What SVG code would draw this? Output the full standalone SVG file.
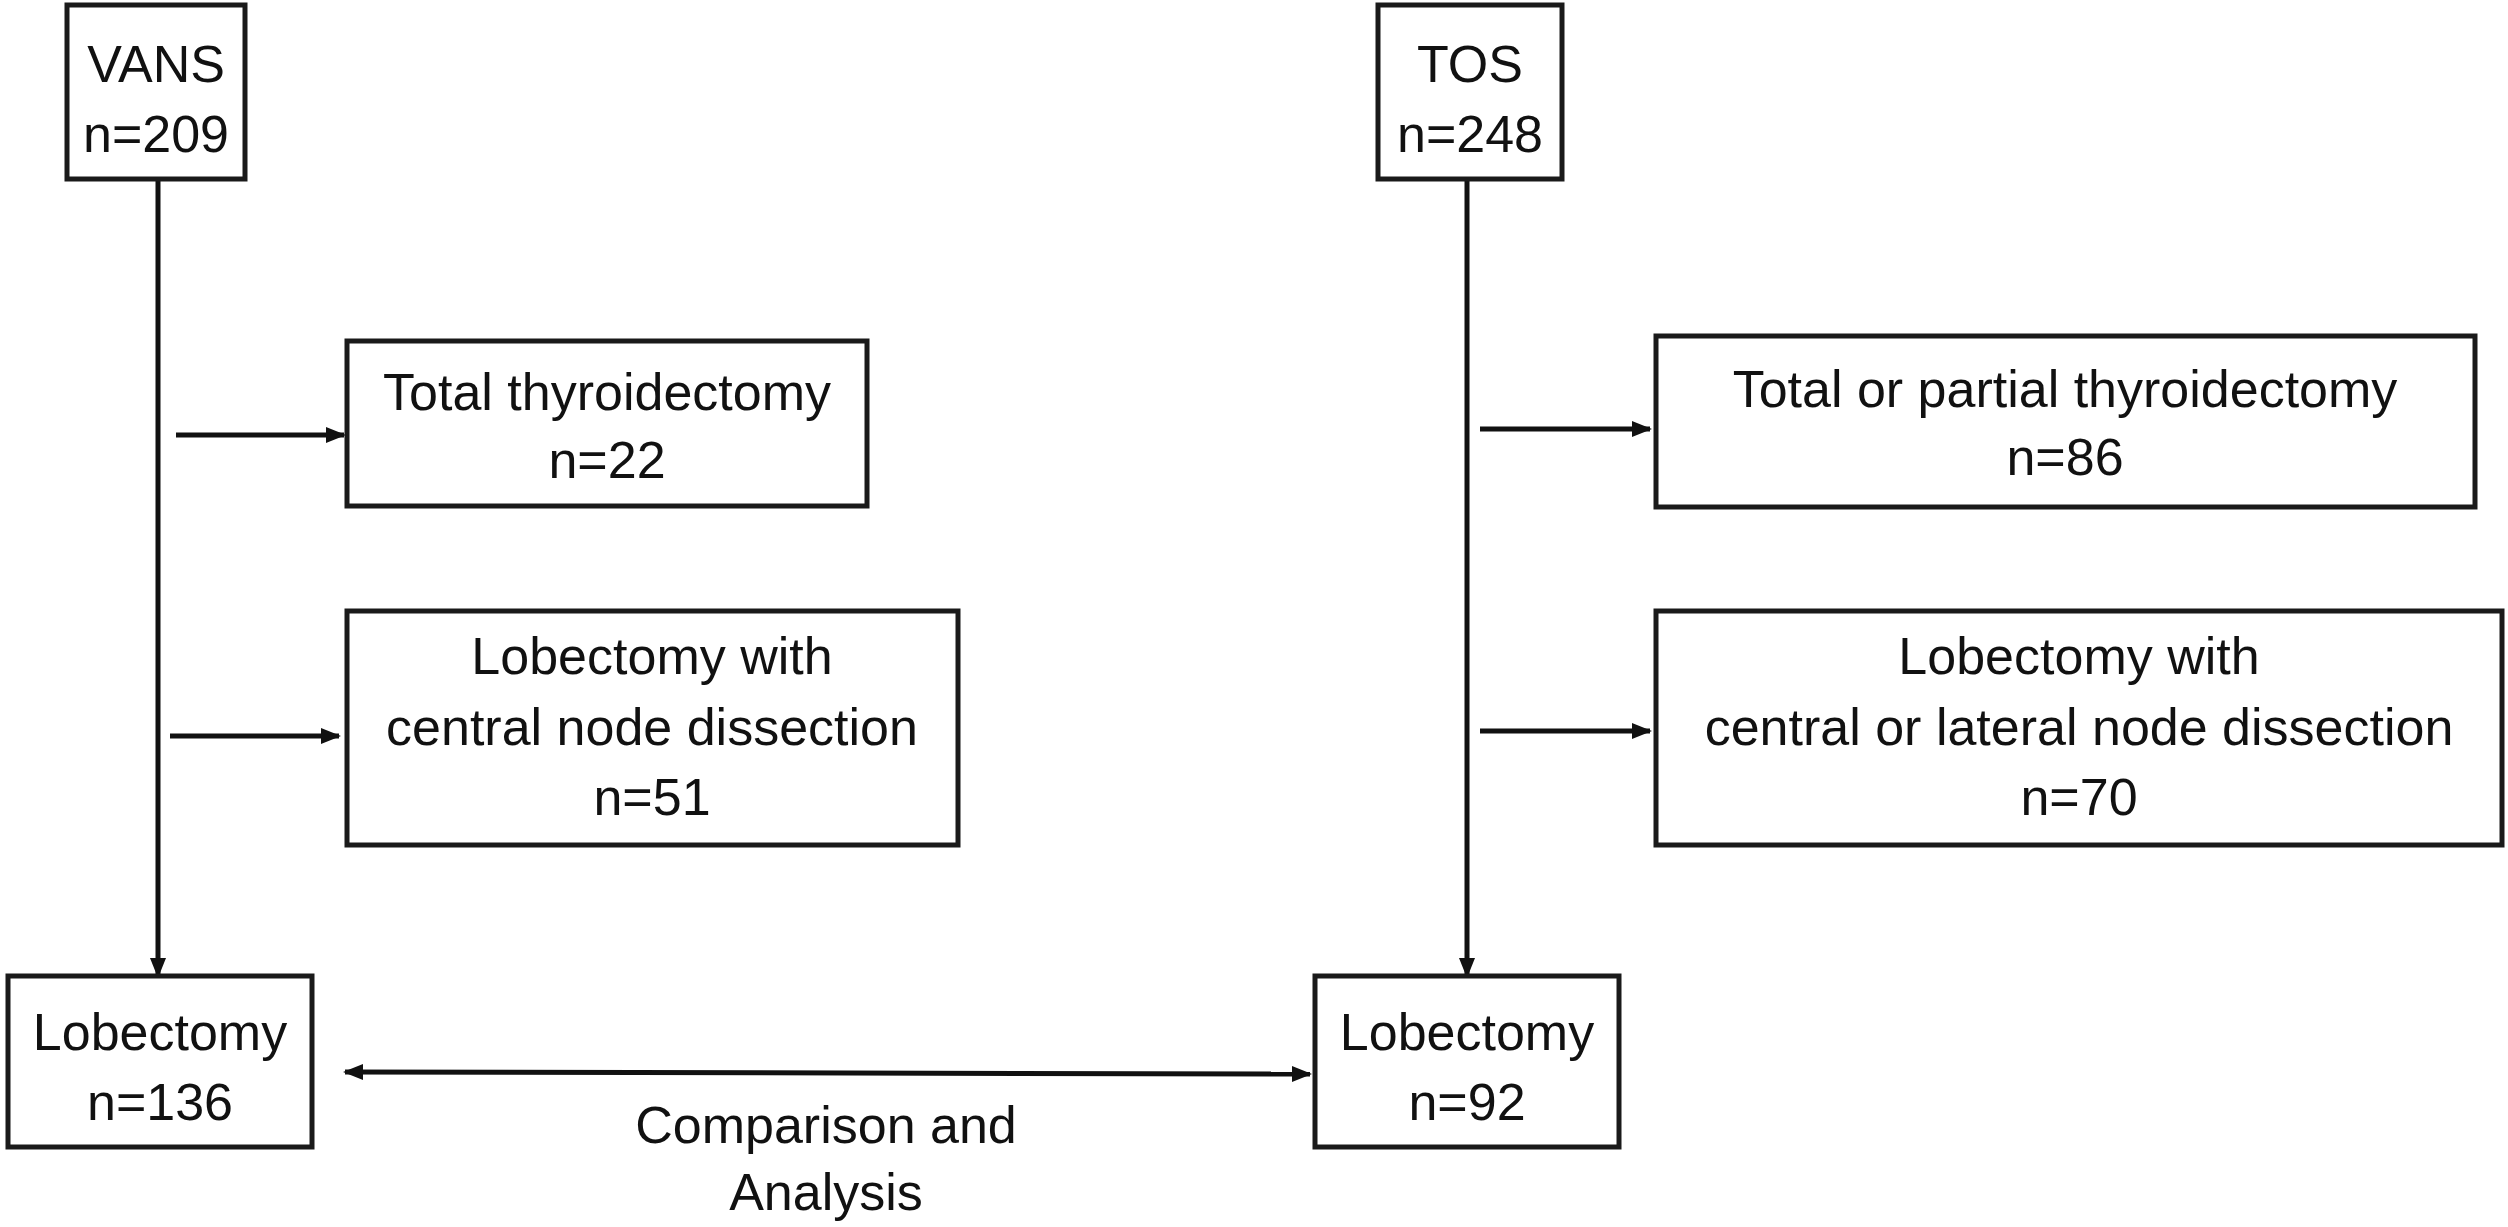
<svg xmlns="http://www.w3.org/2000/svg" width="2508" height="1227" viewBox="0 0 2508 1227">
<style>
rect{fill:#fff;stroke:#1a1a1a;stroke-width:5}
text{font-family:"Liberation Sans",Arial,sans-serif;font-size:52px;fill:#111;text-anchor:middle}
.c line{stroke:#111;stroke-width:5}
</style>
<defs>
<marker id="a" viewBox="0 0 10 10" refX="9" refY="5" markerWidth="4" markerHeight="4" orient="auto-start-reverse"><path d="M0,1 L10,5 L0,9 z" fill="#111"/></marker>
</defs>
<rect width="2508" height="1227" style="stroke:none"/>
<g class="c">
<line x1="158" y1="179" x2="158" y2="976" marker-end="url(#a)"/>
<line x1="176" y1="435" x2="344" y2="435" marker-end="url(#a)"/>
<line x1="170" y1="736" x2="339" y2="736" marker-end="url(#a)"/>
<line x1="1467" y1="179" x2="1467" y2="976" marker-end="url(#a)"/>
<line x1="1480" y1="429" x2="1650" y2="429" marker-end="url(#a)"/>
<line x1="1480" y1="731" x2="1650" y2="731" marker-end="url(#a)"/>
<line x1="345" y1="1072" x2="1310" y2="1074" marker-start="url(#a)" marker-end="url(#a)"/>
</g>
<g id="vans"><rect x="67" y="5" width="178" height="174"/><text x="156" y="82">VANS</text><text x="156" y="152">n=209</text></g>
<g id="tos"><rect x="1378" y="5" width="184" height="174"/><text x="1470" y="82">TOS</text><text x="1470" y="152">n=248</text></g>
<g id="tt"><rect x="347" y="341" width="520" height="165"/><text x="607" y="410">Total thyroidectomy</text><text x="607" y="478">n=22</text></g>
<g id="tp"><rect x="1656" y="336" width="819" height="171"/><text x="2065" y="407">Total  or partial thyroidectomy</text><text x="2065" y="475">n=86</text></g>
<g id="lc"><rect x="347" y="611" width="611" height="234"/><text x="652" y="674">Lobectomy with</text><text x="652" y="745">central node dissection</text><text x="652" y="815">n=51</text></g>
<g id="lcl"><rect x="1656" y="611" width="846" height="234"/><text x="2079" y="674">Lobectomy with</text><text x="2079" y="745">central or lateral node dissection</text><text x="2079" y="815">n=70</text></g>
<g id="l1"><rect x="8" y="976" width="304" height="171"/><text x="160" y="1050">Lobectomy</text><text x="160" y="1120">n=136</text></g>
<g id="l2"><rect x="1315" y="976" width="304" height="171"/><text x="1467" y="1050">Lobectomy</text><text x="1467" y="1120">n=92</text></g>
<text x="826" y="1143">Comparison and</text>
<text x="826" y="1210">Analysis</text>
</svg>
